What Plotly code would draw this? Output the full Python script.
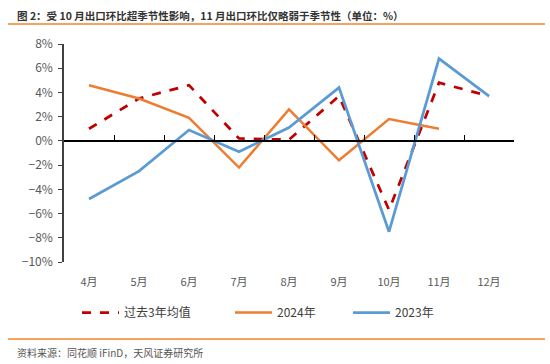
import plotly.graph_objects as go

months = ["4月", "5月", "6月", "7月", "8月", "9月", "10月", "11月", "12月"]
avg3 = [1.0, 3.5, 4.6, 0.2, 0.1, 3.7, -5.7, 4.8, 3.7]
y2024 = [4.6, 3.5, 1.9, -2.2, 2.6, -1.6, 1.8, 1.0]
y2023 = [-4.8, -2.5, 0.9, -0.9, 1.1, 4.4, -7.5, 6.8, 3.7]
yticks = [8, 6, 4, 2, 0, -2, -4, -6, -8, -10]

title = "图 2：受 10 月出口环比超季节性影响，11 月出口环比仅略弱于季节性（单位：%）"
source = "资料来源：同花顺 iFinD，天风证券研究所"

FONT = "Noto Sans CJK SC"
W, H = 550, 364
L, R, T, B = 64, 36, 44, 102
PW, PH = W - L - R, H - T - B


def px_x(px):
    return (px - L) / PW


def px_y(py):
    return (H - B - py) / PH


fig = go.Figure()
fig.add_trace(go.Scatter(x=months, y=avg3, name="过去3年均值", mode="lines", legend="legend",
                         line=dict(color="#C00000", width=2.75, dash="dash")))
fig.add_trace(go.Scatter(x=months[:len(y2024)], y=y2024, name="2024年", mode="lines", legend="legend2",
                         line=dict(color="#ED7D31", width=2.5)))
fig.add_trace(go.Scatter(x=months, y=y2023, name="2023年", mode="lines", legend="legend3",
                         line=dict(color="#5B9BD5", width=2.75)))
# helper (invisible) trace for the zero-line axis with boundary ticks
fig.add_trace(go.Scatter(x=list(range(len(months))), y=[0] * len(months), xaxis="x2",
                         mode="lines", line=dict(width=0), showlegend=False, hoverinfo="skip"))

ymin, ymax = min(yticks), max(yticks)
zero_pos = (0 - ymin) / (ymax - ymin)

leg_common = dict(orientation="h", xanchor="left", y=px_y(298), yanchor="top",
                  font=dict(size=12, color="#404040", family=FONT),
                  itemwidth=37, bgcolor="rgba(0,0,0,0)")

fig.update_layout(
    width=W, height=H,
    margin=dict(l=L, r=R, t=T, b=B, autoexpand=False),
    paper_bgcolor="white", plot_bgcolor="white",
    font=dict(family=FONT, color="#595959", size=11),
    showlegend=True,
    legend=dict(x=px_x(77), **leg_common),
    legend2=dict(x=px_x(230), **leg_common),
    legend3=dict(x=px_x(348), **leg_common),
    xaxis=dict(type="category", range=[-0.5, len(months) - 0.5], showline=False, automargin=False,
               showgrid=False, zeroline=False, ticks="", ticklabelstandoff=12,
               tickfont=dict(size=11, color="#595959")),
    xaxis2=dict(overlaying="x", anchor="free", position=zero_pos, range=[-0.5, len(months) - 0.5],
                showline=True, linecolor="#000000", linewidth=1.5, showgrid=False, zeroline=False,
                ticks="inside", ticklen=5, tickcolor="#000000", tickwidth=1, automargin=False,
                tickvals=[i + 0.5 for i in range(len(months))], showticklabels=False),
    yaxis=dict(range=[ymin, ymax], tickvals=yticks,
               ticktext=[("−" if v < 0 else "") + f"{abs(v)}%" for v in yticks],
               showline=True, linecolor="#404040", linewidth=1.5, ticks="outside", ticklen=4,
               tickcolor="#404040", showgrid=False, zeroline=False, automargin=False,
               tickfont=dict(size=12, color="#595959"), ticklabelstandoff=3),
)

fig.add_annotation(text="<b>" + title + "</b>", xref="paper", yref="paper", x=px_x(15), y=px_y(15),
                   xanchor="left", yanchor="middle", showarrow=False,
                   font=dict(size=10.5, color="#333333", family=FONT))
fig.add_annotation(text=source, xref="paper", yref="paper", x=px_x(15), y=px_y(352),
                   xanchor="left", yanchor="middle", showarrow=False,
                   font=dict(size=10, color="#555555", family=FONT))
fig.add_shape(type="line", xref="paper", yref="paper", x0=px_x(8), x1=px_x(545),
              y0=px_y(24), y1=px_y(24), line=dict(color="#F4A460", width=2))
fig.add_shape(type="line", xref="paper", yref="paper", x0=px_x(8), x1=px_x(545),
              y0=px_y(339), y1=px_y(339), line=dict(color="#F4A460", width=2))

fig.write_html("out.html", config={"displayModeBar": False},
               post_script="document.body.style.margin='0';")
